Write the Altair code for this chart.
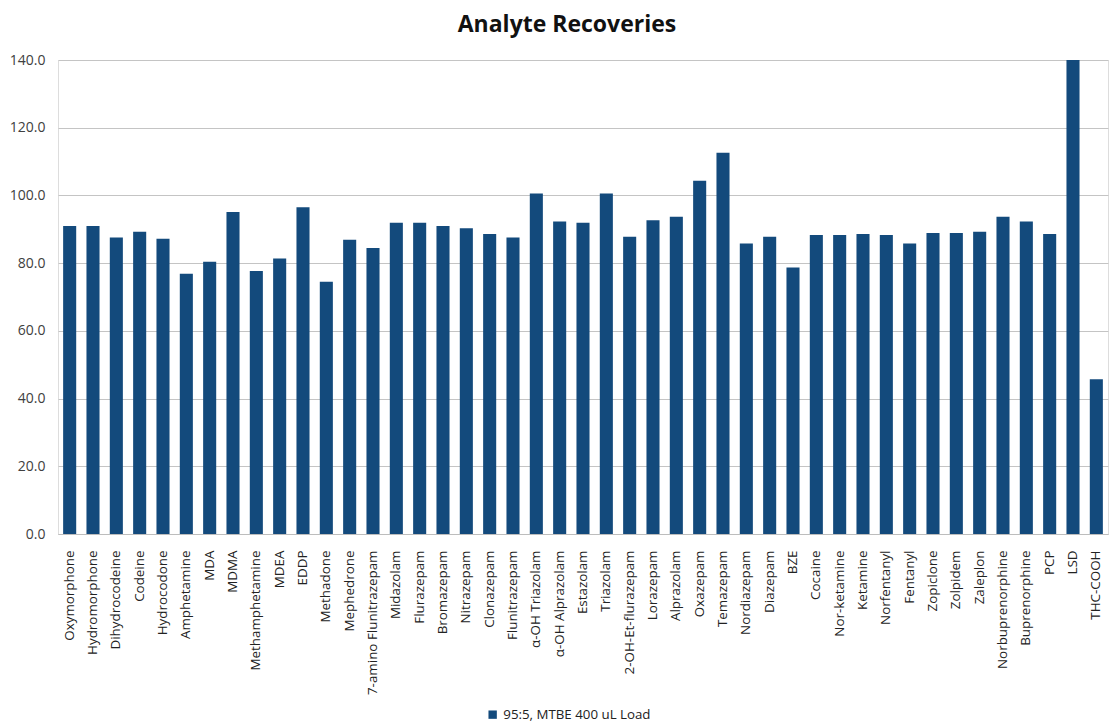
import altair as alt
import pandas as pd

analytes = ["Oxymorphone", "Hydromorphone", "Dihydrocodeine", "Codeine", "Hydrocodone",
            "Amphetamine", "MDA", "MDMA", "Methamphetamine", "MDEA", "EDDP", "Methadone",
            "Mephedrone", "7-amino Flunitrazepam", "Midazolam", "Flurazepam", "Bromazepam",
            "Nitrazepam", "Clonazepam", "Flunitrazepam", "α-OH Triazolam", "α-OH Alprazolam",
            "Estazolam", "Triazolam", "2-OH-Et-flurazepam", "Lorazepam", "Alprazolam",
            "Oxazepam", "Temazepam", "Nordiazepam", "Diazepam", "BZE", "Cocaine",
            "Nor-ketamine", "Ketamine", "Norfentanyl", "Fentanyl", "Zopiclone", "Zolpidem",
            "Zaleplon", "Norbuprenorphine", "Buprenorphine", "PCP", "LSD", "THC-COOH"]
recovery = [91.0, 91.0, 87.6, 89.3, 87.2,
            76.9, 80.4, 95.1, 77.7, 81.4, 96.5, 74.5,
            86.9, 84.5, 91.9, 91.9, 91.0,
            90.3, 88.6, 87.6, 100.6, 92.3,
            91.9, 100.6, 87.8, 92.7, 93.7,
            104.3, 112.6, 85.8, 87.8, 78.7, 88.3,
            88.3, 88.6, 88.3, 85.8, 88.9, 88.9,
            89.3, 93.7, 92.3, 88.6, 140.0, 45.7]
series_name = "95:5, MTBE 400 uL Load"
y_ticks = [0, 20, 40, 60, 80, 100, 120, 140]

df = pd.DataFrame({"Analyte": analytes, "Recovery": recovery, "Series": series_name})

FONT = "Open Sans"
BAR = "#134a7c"

chart = alt.Chart(df).mark_bar(clip=True).encode(
    x=alt.X("Analyte:N", sort=analytes,
            scale=alt.Scale(paddingInner=0.44, paddingOuter=0.22),
            axis=alt.Axis(title=None, labelAngle=-90, labelAlign="right", labelBaseline="middle",
                          labelFontSize=13.4, labelColor="#222222", labelFont=FONT,
                          ticks=False, labelPadding=16, domainColor="#bdbdbd",
                          labelOverlap=False, labelLimit=300)),
    y=alt.Y("Recovery:Q", scale=alt.Scale(domain=[0, 140], nice=False),
            axis=alt.Axis(title=None, values=y_ticks, format=".1f", labelFontSize=14,
                          labelColor="#404040", labelFont=FONT, ticks=False, domain=False,
                          gridColor="#c4c4c4", labelPadding=13)),
    color=alt.Color("Series:N", scale=alt.Scale(range=[BAR]),
                    legend=alt.Legend(title=None, orient="none", legendX=428, legendY=648,
                                      symbolType="square", symbolSize=70,
                                      labelFontSize=13.3, labelFont=FONT, labelColor="#222222")),
).properties(
    width=1050, height=474,
    title=alt.TitleParams("Analyte Recoveries", fontSize=23, font=FONT, fontWeight="bold",
                          color="#111111", offset=16, dx=-16),
    autosize=alt.AutoSizeParams(type="none"),
    padding={"left": 58, "top": 60, "right": 4, "bottom": 190},
).configure_view(stroke=None).configure(background="white")

chart.save("out.html", embed_options={"renderer": "svg", "actions": False})
